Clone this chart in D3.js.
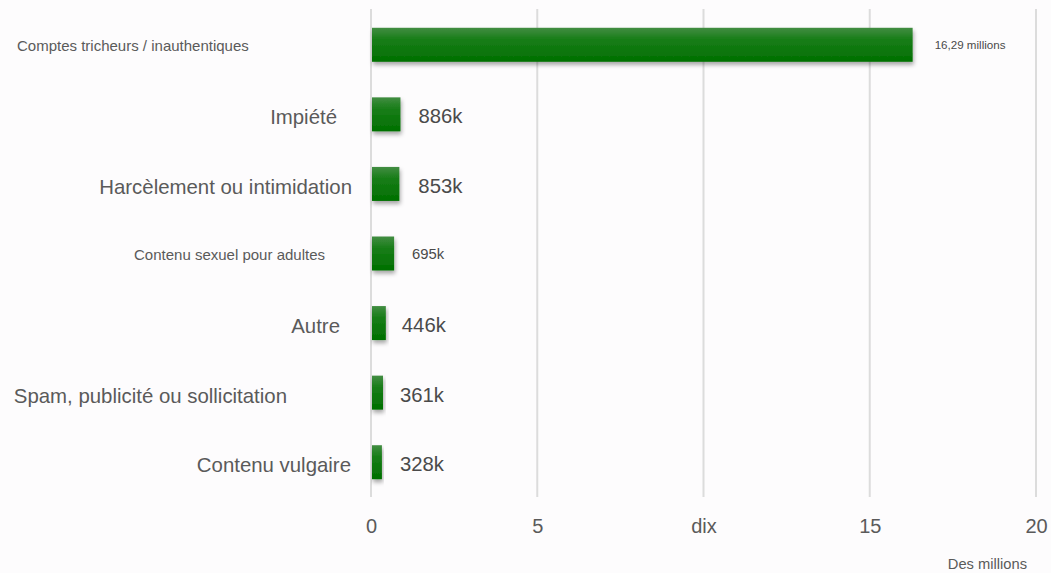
<!DOCTYPE html>
<html>
<head>
<meta charset="utf-8">
<script src="https://cdn.jsdelivr.net/npm/d3@7"></script>
<style>
  html, body { margin: 0; padding: 0; background: #fdfcfd; }
  svg { display: block; font-family: "Liberation Sans", Arial, Helvetica, sans-serif; }
</style>
</head>
<body>
<svg id="chart" width="1051" height="573"></svg>
<script>
// Categories and values (millions of items)
const categories = [
  "Comptes tricheurs / inauthentiques",
  "Impiété",
  "Harcèlement ou intimidation",
  "Contenu sexuel pour adultes",
  "Autre",
  "Spam, publicité ou sollicitation",
  "Contenu vulgaire"
];
const values = [16.29, 0.886, 0.853, 0.695, 0.446, 0.361, 0.328];
const valueLabels = ["16,29 millions", "886k", "853k", "695k", "446k", "361k", "328k"];
const tickValues = [0, 5, 10, 15, 20];
const tickLabels = ["0", "5", "dix", "15", "20"];
const axisTitle = "Des millions";

// Per-row typography: category label font size, gap to axis, value label size and gap
const labelSizes = [15, 20.4, 20.4, 15, 20.4, 20.4, 20.4];
const labelGaps = [null, 34, 19, 46, 31, 84, 20];
const valueSizes = [11.6, 20.3, 20.3, 14.8, 20.3, 20.3, 20.3];
const valueGaps = [22, 18, 19, 18, 16, 17, 18];

const svg = d3.select("#chart");

const x = d3.scaleLinear().domain([0, 20]).range([371, 1036]);
const y = d3.scaleBand().domain(categories).range([10, 497]).padding(0);
const barH = 34;

const defs = svg.append("defs");
const grad = defs.append("linearGradient")
  .attr("id", "barGrad").attr("x1", 0).attr("y1", 0).attr("x2", 0).attr("y2", 1);
grad.append("stop").attr("offset", "0%").attr("stop-color", "#428d42");
grad.append("stop").attr("offset", "35%").attr("stop-color", "#177d17");
grad.append("stop").attr("offset", "100%").attr("stop-color", "#017001");

const shadow = defs.append("filter").attr("id", "barShadow")
  .attr("x", "-10%").attr("y", "-20%").attr("width", "130%").attr("height", "160%");
shadow.append("feDropShadow")
  .attr("dx", 1).attr("dy", 3).attr("stdDeviation", 2)
  .attr("flood-color", "#000").attr("flood-opacity", 0.35);

// Vertical gridlines
svg.append("g").selectAll("line")
  .data(tickValues)
  .join("line")
  .attr("x1", d => x(d)).attr("x2", d => x(d))
  .attr("y1", 9).attr("y2", 497)
  .attr("stroke", "#dcdcdc").attr("stroke-width", 2);

// Bottom axis tick labels
const axis = d3.axisBottom(x).tickValues(tickValues)
  .tickFormat((d, i) => tickLabels[i]).tickSize(0).tickPadding(0);
const gAxis = svg.append("g").attr("transform", "translate(0,519)").call(axis);
gAxis.select(".domain").remove();
gAxis.selectAll("text")
  .attr("font-size", 20).attr("fill", "#5a5a5a")
  .attr("font-family", "'Liberation Sans', Arial, sans-serif");

svg.append("text")
  .attr("x", 1027).attr("y", 569)
  .attr("text-anchor", "end")
  .attr("font-size", 14.7).attr("fill", "#5a5a5a")
  .text(axisTitle);

const rows = categories.map((c, i) => ({ c, v: values[i], lab: valueLabels[i], i }));

// Bars
svg.append("g").selectAll("rect")
  .data(rows)
  .join("rect")
  .attr("x", x(0) + 1)
  .attr("y", d => y(d.c) + (y.bandwidth() - barH) / 2)
  .attr("width", d => x(d.v) - x(0) - 1)
  .attr("height", barH)
  .attr("fill", "url(#barGrad)")
  .attr("filter", "url(#barShadow)");

// Category labels
svg.append("g").selectAll("text")
  .data(rows)
  .join("text")
  .attr("x", d => labelGaps[d.i] === null ? 17 : x(0) - labelGaps[d.i])
  .attr("y", d => y(d.c) + y.bandwidth() / 2 + (labelSizes[d.i] > 16 ? 3 : 1))
  .attr("dy", "0.35em")
  .attr("text-anchor", d => labelGaps[d.i] === null ? "start" : "end")
  .attr("font-size", d => labelSizes[d.i])
  .attr("fill", "#5a5a5a")
  .text(d => d.c);

// Value labels
svg.append("g").selectAll("text")
  .data(rows)
  .join("text")
  .attr("x", d => x(d.v) + valueGaps[d.i])
  .attr("y", d => y(d.c) + y.bandwidth() / 2 + (valueSizes[d.i] > 16 ? 2 : 0))
  .attr("dy", "0.35em")
  .attr("font-size", d => valueSizes[d.i])
  .attr("fill", "#4a4a4a")
  .text(d => d.lab);
</script>
</body>
</html>
